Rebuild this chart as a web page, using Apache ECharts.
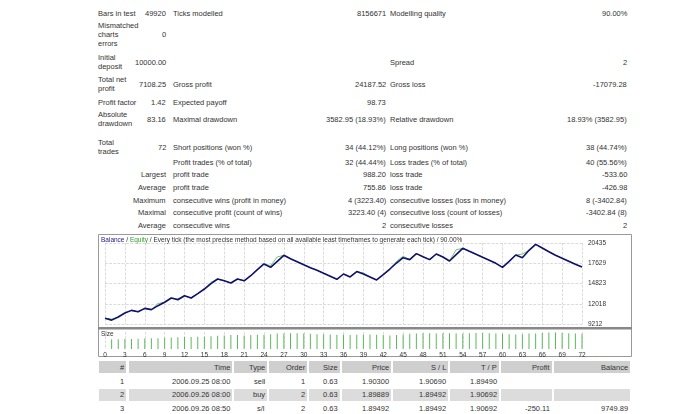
<!DOCTYPE html>
<html><head><meta charset="utf-8">
<script src="https://cdn.jsdelivr.net/npm/echarts@6/dist/echarts.min.js"></script>
<style>
body{margin:0;background:#fff;font-family:"Liberation Sans",sans-serif;font-size:7.5px;color:#333;}
#page{position:relative;width:690px;height:414px;overflow:hidden;}
.t{position:absolute;white-space:nowrap;line-height:9px;}
.r{text-align:right;}
.bar{position:absolute;left:98px;width:532px;height:12px;}
#chart{position:absolute;left:98px;top:234px;width:535px;height:126px;}
</style></head><body>
<div id="page"><div id="chart"></div></div>
<script>
// balance after each trade (trade 0 = initial deposit)
var balance = [10000,9750,10180,10740,11100,10900,11380,11200,11750,12220,12820,12580,13130,12820,13420,14060,14800,15450,15200,14900,15450,15200,15900,16740,17530,17060,17900,18730,18260,17850,17430,17020,16650,16230,15820,15400,16140,15730,16470,16140,15730,15310,16050,16830,17660,18400,18130,18960,18540,18130,18910,18500,17940,18820,19700,19280,18870,18450,18040,17620,17060,17900,18770,18400,19420,20250,19740,19230,18730,18310,17900,17480,17108];
var equity = [10000,9900,10180,10740,11100,10900,11380,11200,12050,12220,12820,12700,13130,12820,13420,14060,15000,15450,15200,14900,15450,15200,15900,16740,17530,17300,18500,18730,18260,17850,17430,17020,16650,16230,15820,15400,16140,15730,16470,16300,15730,15310,16050,16830,17900,18600,18130,18960,18540,18130,18910,18500,17940,19500,19700,19280,18870,18450,18040,17620,17060,17900,18770,18900,19420,20250,19740,19230,18730,18310,17900,17480,17108];
var sizes = [0.63,0.63,0.65,0.65,0.67,0.68,0.70,0.70,0.72,0.74,0.76,0.78,0.78,0.80,0.80,0.82,0.86,0.88,0.90,0.90,0.88,0.90,0.92,0.92,0.96,1.00,1.00,1.02,1.02,1.00,0.98,0.96,0.96,0.94,0.92,0.92,0.90,0.92,0.92,0.94,0.92,0.90,0.88,0.90,0.94,0.98,1.00,1.02,1.02,1.00,1.02,1.02,1.00,0.98,1.02,1.04,1.04,1.02,1.00,0.98,0.96,0.94,0.96,1.00,1.00,1.04,1.06,1.06,1.04,1.02,1.00,0.98];
var yTicks = [9212,12018,14823,17629,20435];
var xTicks = [];
for (var i = 0; i <= 72; i++) xTicks.push(String(i));

var stats = [
 [13,'Bars in test','49920','Ticks modelled','8156671','Modelling quality','90.00%'],
 [34,'Mismatched<br>charts<br>errors','0','','','',''],
 [62,'Initial<br>deposit','10000.00','','','Spread','2'],
 [84,'Total net<br>profit','7108.25','Gross profit','24187.52','Gross loss','-17079.28'],
 [102,'Profit factor','1.42','Expected payoff','98.73','',''],
 [119,'Absolute<br>drawdown','83.16','Maximal drawdown','3582.95 (18.93%)','Relative drawdown','18.93% (3582.95)'],
 [147,'Total<br>trades','72','Short positions (won %)','34 (44.12%)','Long positions (won %)','38 (44.74%)'],
 [162,'','','Profit trades (% of total)','32 (44.44%)','Loss trades (% of total)','40 (55.56%)'],
 [174,'','Largest','profit trade','988.20','loss trade','-533.60'],
 [187,'','Average','profit trade','755.86','loss trade','-426.98'],
 [200,'','Maximum','consecutive wins (profit in money)','4 (3223.40)','consecutive losses (loss in money)','8 (-3402.84)'],
 [212,'','Maximal','consecutive profit (count of wins)','3223.40 (4)','consecutive loss (count of losses)','-3402.84 (8)'],
 [225,'','Average','consecutive wins','2','consecutive losses','2']
];
var tradeHead = ['#','Time','Type','Order','Size','Price','S / L','T / P','Profit','Balance'];
var trades = [
 ['1','2006.09.25 08:00','sell','1','0.63','1.90300','1.90690','1.89490','',''],
 ['2','2006.09.26 08:00','buy','2','0.63','1.89889','1.89492','1.90692','',''],
 ['3','2006.09.26 08:50','s/l','2','0.63','1.89492','1.89492','1.90692','-250.11','9749.89']
];

var page = document.getElementById('page');
function put(x, y, txt, right) {
  var d = document.createElement('div');
  d.className = 't' + (right ? ' r' : '');
  d.innerHTML = txt;
  page.appendChild(d);
  var h = d.offsetHeight;
  d.style.top = (y - h / 2) + 'px';
  if (right) d.style.left = (x - d.offsetWidth) + 'px'; else d.style.left = x + 'px';
}
stats.forEach(function (s) {
  var y = s[0];
  if (s[1]) put(98, y, s[1]);
  if (s[2]) put(166, y, s[2], true);
  if (s[3]) put(173, y, s[3]);
  if (s[4]) put(386, y, s[4], true);
  if (s[5]) put(390, y, s[5]);
  if (s[6]) put(627, y, s[6], true);
});

var colRight = [124, 230, 265, 305, 338, 389, 446, 497, 550, 628];
var colLeft = [98, 128, 233, 268, 308, 341, 392, 449, 500, 553];
function row(y, cells, shade, head) {
  if (shade) {
    for (var c = 0; c < cells.length; c++) {
      var b = document.createElement('div');
      b.className = 'bar';
      b.style.top = (y - 6) + 'px';
      b.style.left = (colLeft[c] + 1) + 'px';
      b.style.width = (colRight[c] + 3 - colLeft[c] - 2) + 'px';
      b.style.background = head ? '#cfcfcf' : '#dcdcdc';
      page.appendChild(b);
    }
  }
  cells.forEach(function (v, c) { if (v) put(colRight[c], y, v, true); });
}
row(367, tradeHead, true, true);
trades.forEach(function (t, i) { row(381 + i * 13.5, t, i === 1, false); });

var chart = echarts.init(document.getElementById('chart'));
var base = yTicks[0], step = (yTicks[4] - yTicks[0]) / 4;
function shift(a) { return a.map(function (v) { return v - base; }); }
chart.setOption({
  animation: false,
  textStyle: {fontFamily: 'Liberation Sans'},
  graphic: [
    {type: 'rect', shape: {x: 0.5, y: 0.5, width: 533, height: 122}, style: {fill: 'none', stroke: '#999'}},
    {type: 'rect', shape: {x: 0, y: 93, width: 534, height: 2.5}, style: {fill: '#888'}},
    {type: 'text', left: 3, top: 3, style: {
      text: '{b|Balance} / {e|Equity} / Every tick (the most precise method based on all available least timeframes to generate each tick) / 90.00%',
      rich: {b: {fill: '#1a1a8c', fontSize: 6.5}, e: {fill: '#2ca02c', fontSize: 6.5}},
      fill: '#333', fontSize: 6.5}},
    {type: 'text', left: 3, top: 97, style: {text: 'Size', fill: '#333', fontSize: 6.5}}
  ],
  grid: [
    {left: 7, right: 51, top: 9, height: 81},
    {left: 7, right: 51, top: 98, height: 17}
  ],
  xAxis: [
    {type: 'category', data: xTicks, boundaryGap: false, gridIndex: 0,
     axisLine: {show: false}, axisTick: {show: false}, axisLabel: {show: false},
     splitLine: {show: true, interval: 2, lineStyle: {color: '#ccc', type: 'dashed', width: 0.7}}},
    {type: 'category', data: xTicks, boundaryGap: false, gridIndex: 1,
     axisLine: {show: false}, axisTick: {show: false},
     axisLabel: {interval: 2, fontSize: 6.5, color: '#333', margin: 3},
     splitLine: {show: true, interval: 2, lineStyle: {color: '#ccc', type: 'dashed', width: 0.7}}}
  ],
  yAxis: [
    {type: 'value', gridIndex: 0, position: 'right', min: 0, max: step * 4, interval: step,
     axisLine: {show: false}, axisTick: {show: false},
     axisLabel: {fontSize: 6.5, color: '#333', margin: 6, formatter: function (v) { return yTicks[Math.round(v / step)]; }},
     splitLine: {lineStyle: {color: '#ccc', type: 'dashed', width: 0.7}}},
    {type: 'value', gridIndex: 1, min: 0, max: 1.1, show: false}
  ],
  series: [
    {type: 'line', data: shift(equity), xAxisIndex: 0, yAxisIndex: 0, symbol: 'none',
     lineStyle: {color: '#6fc46f', width: 1}},
    {type: 'line', data: shift(balance), xAxisIndex: 0, yAxisIndex: 0, symbol: 'none',
     lineStyle: {color: '#10106e', width: 1.6}},
    {type: 'bar', data: [null].concat(sizes), xAxisIndex: 1, yAxisIndex: 1, barWidth: 1,
     itemStyle: {color: '#5cb85c'}}
  ]
});
</script></body></html>
